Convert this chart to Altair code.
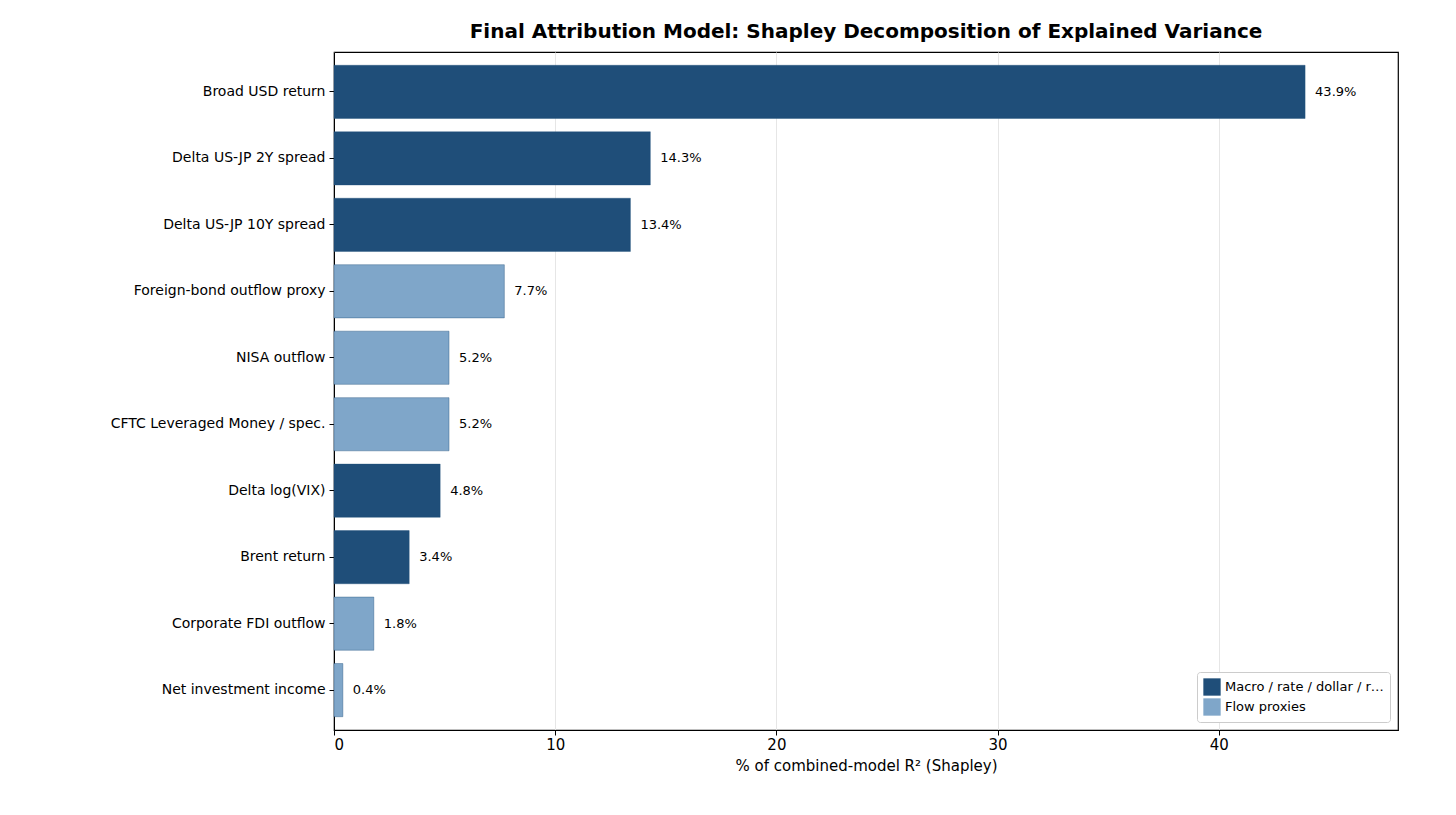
import altair as alt
import pandas as pd

factors = ["Broad USD return", "Delta US-JP 2Y spread", "Delta US-JP 10Y spread",
           "Foreign-bond outflow proxy", "NISA outflow", "CFTC Leveraged Money / spec.",
           "Delta log(VIX)", "Brent return", "Corporate FDI outflow", "Net investment income"]
shares = [43.9, 14.3, 13.4, 7.7, 5.2, 5.2, 4.8, 3.4, 1.8, 0.4]
groups = ["Macro / rate / dollar / risk"] * 3 + ["Flow proxies"] * 3 + \
         ["Macro / rate / dollar / risk"] * 2 + ["Flow proxies"] * 2

df = pd.DataFrame({"factor": factors, "share": shares, "group": groups})
df["label"] = [f"{v:.1f}%" for v in shares]

font = "DejaVu Sans"
y = alt.Y("factor:N", sort=factors, title=None,
          scale=alt.Scale(paddingInner=0.2, paddingOuter=0.2),
          axis=alt.Axis(labelFontSize=14, labelColor="black", labelFont=font, labelLimit=0,
                        domainColor="black", tickColor="black", tickSize=5, labelPadding=4))

bars = alt.Chart(df).mark_bar(stroke="#1f4e79", strokeWidth=0.4).encode(
    x=alt.X("share:Q", title="% of combined-model R² (Shapley)",
            scale=alt.Scale(domain=[0, 48.1], nice=False),
            axis=alt.Axis(values=[0, 10, 20, 30, 40], format="d", labelFontSize=15,
                          titleFontSize=15, titleFontWeight="normal", labelColor="black",
                          titleColor="black", labelFont=font, titleFont=font,
                          grid=True, gridColor="#e6e6e6", domainColor="black",
                          tickColor="black", tickSize=5, titlePadding=6)),
    y=y,
    color=alt.Color("group:N", title=None,
                    scale=alt.Scale(domain=["Macro / rate / dollar / risk", "Flow proxies"],
                                    range=["#1f4e79", "#7fa6c9"]),
                    legend=alt.Legend(orient="bottom-right", symbolType="square",
                                      symbolSize=300, labelFontSize=13, labelFont=font,
                                      labelColor="black", strokeColor="#cccccc",
                                      fillColor="white", padding=6, offset=8,
                                      cornerRadius=3, symbolStrokeWidth=0)),
)

labels = alt.Chart(df).mark_text(align="left", dx=10, fontSize=13, font=font,
                                 color="black").encode(
    x="share:Q", y=alt.Y("factor:N", sort=factors), text="label:N")

chart = (bars + labels).properties(
    width=1064, height=678,
    autosize=alt.AutoSizeParams(type="none"),
    padding={"left": 326, "top": 44, "right": 20, "bottom": 60},
    title=alt.TitleParams("Final Attribution Model: Shapley Decomposition of Explained Variance",
                          fontSize=20, font=font, fontWeight="bold", color="black",
                          anchor="middle", offset=10),
).configure(background="white").configure_view(stroke="black", strokeWidth=1.2)

chart.save("out.html", embed_options={"renderer": "svg", "actions": False})
